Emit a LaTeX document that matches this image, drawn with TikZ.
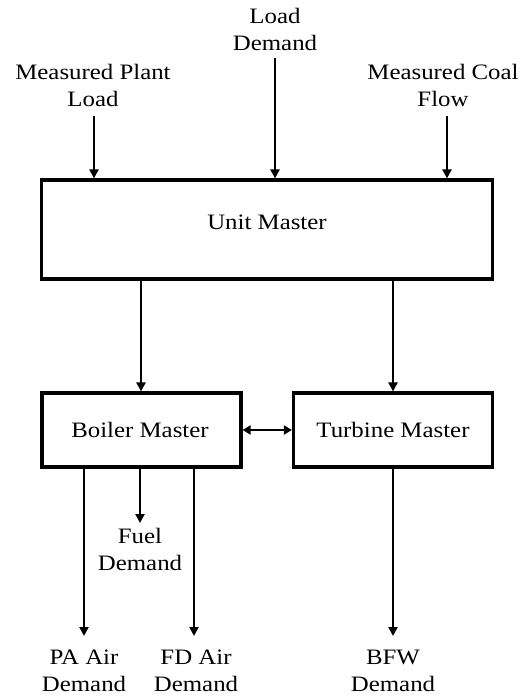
\documentclass[tikz,border=0pt]{standalone}
\usepackage{fontspec}
\setmainfont[FakeStretch=1.13]{Liberation Serif}
\usetikzlibrary{arrows.meta}
\begin{document}
\begin{tikzpicture}[x=1pt,y=-1pt,
  box/.style={draw,line width=3.2pt,inner sep=0pt},
  lbl/.style={align=center,font=\fontsize{22}{27}\selectfont,inner sep=0pt},
  arr/.style={line width=2.8pt,-{Triangle[length=9pt,width=9pt]}},
  darr/.style={line width=2.8pt,{Triangle[length=8pt,width=9pt]}-{Triangle[length=8pt,width=9pt]}}]
\useasboundingbox (0,0) rectangle (522,696);
% boxes
\node[box,minimum width=451pt,minimum height=99pt] (um) at (267,229.5) {};
\node[lbl] (umt) at (267,222) {Unit Master};
\node[box,minimum width=199pt,minimum height=74pt] (bm) at (141.5,430) {};
\node[lbl] (bmt) at (140,430) {Boiler Master};
\node[box,minimum width=199pt,minimum height=74pt] (tm) at (393,430) {};
\node[lbl] (tmt) at (393,430) {Turbine Master};
% inputs
\node[lbl] (ld) at (275,29) {Load\\Demand};
\node[lbl] (mpl) at (93,85) {Measured Plant\\Load};
\node[lbl] (mcf) at (443,85) {Measured Coal\\Flow};
\coordinate (ldS) at (275,58);
\coordinate (mplS) at (94,116);
\coordinate (mcfS) at (447,116);
\draw[arr] (ldS) -- (ldS |- um.north);
\draw[arr] (mplS) -- (mplS |- um.north);
\draw[arr] (mcfS) -- (mcfS |- um.north);
% unit to masters
\coordinate (ubx) at (141,0);
\coordinate (utx) at (393,0);
\draw[arr] (ubx |- um.south) -- (ubx |- bm.north);
\draw[arr] (utx |- um.south) -- (utx |- tm.north);
\draw[darr] (bm.east) -- (tm.west);
% outputs
\node[lbl] (fuel) at (140,549) {Fuel\\Demand};
\node[lbl] (pa) at (84,671) {PA Air\\Demand};
\node[lbl] (fd) at (196,671) {FD Air\\Demand};
\node[lbl] (bfw) at (393,671) {BFW\\Demand};
\coordinate (fuelE) at (140,523);
\coordinate (paE) at (84,636);
\coordinate (fdE) at (194,636);
\coordinate (bfwE) at (393,636);
\draw[arr] (fuelE |- bm.south) -- (fuelE);
\draw[arr] (paE |- bm.south) -- (paE);
\draw[arr] (fdE |- bm.south) -- (fdE);
\draw[arr] (bfwE |- tm.south) -- (bfwE);
\end{tikzpicture}
\end{document}
